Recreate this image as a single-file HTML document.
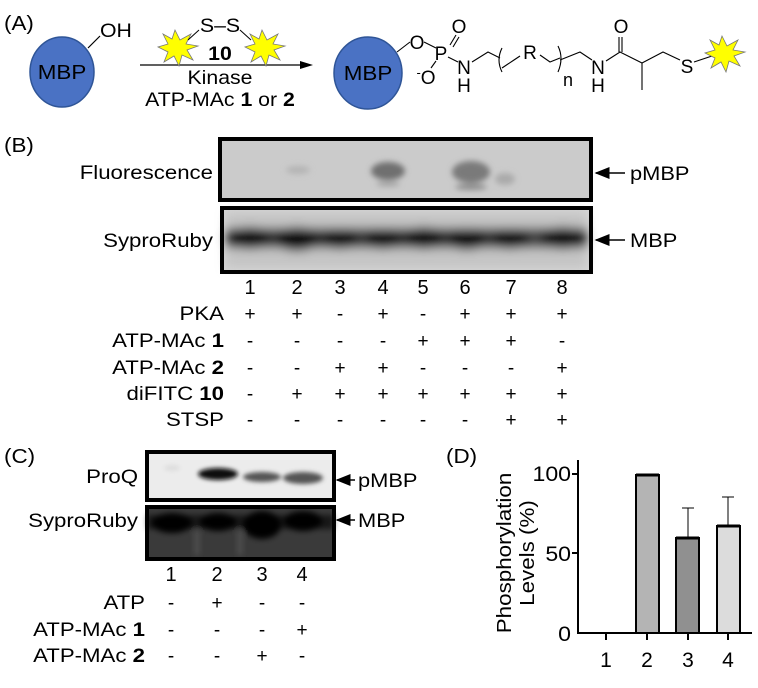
<!DOCTYPE html>
<html><head><meta charset="utf-8"><style>
body{margin:0;background:#fff}
svg{display:block}
text{font-family:"Liberation Sans",Arial,sans-serif;fill:#000}
</style></head><body>
<svg width="758" height="688" viewBox="0 0 758 688" xmlns="http://www.w3.org/2000/svg">
<defs>
<filter id="b3" x="-50%" y="-50%" width="200%" height="200%"><feGaussianBlur stdDeviation="3"/></filter>
<filter id="b5" x="-50%" y="-50%" width="200%" height="200%"><feGaussianBlur stdDeviation="5"/></filter>
<filter id="b2" x="-50%" y="-50%" width="200%" height="200%"><feGaussianBlur stdDeviation="2"/></filter>
<marker id="ah" markerWidth="10" markerHeight="8" refX="9" refY="4" orient="auto"><path d="M0,0 L10,4 L0,8 z" fill="#000"/></marker>
</defs>

<!-- Panel A -->
<g transform="translate(4,0) scale(1.12,1)"><text x="0" y="30" font-size="20">(A)</text></g>
<ellipse cx="62" cy="72" rx="32" ry="35" fill="#4a72c4" stroke="#2f5597" stroke-width="1.5"/>
<g transform="translate(62,0) scale(1.12,1)"><text x="0" y="79" font-size="20" text-anchor="middle">MBP</text></g>
<line x1="88" y1="48" x2="100" y2="36" stroke="#000" stroke-width="1.2"/>
<g transform="translate(100,0) scale(1.12,1)"><text x="0" y="37" font-size="19">OH</text></g>
<line x1="140" y1="65" x2="305" y2="65" stroke="#000" stroke-width="1.3"/>
<path d="M300,61 L313,65 L300,69 z" fill="#000"/>
<polygon points="175,30 180,40 191,34 186,44 198,46 187,50 193,60 182,55 179,66 174,56 164,62 168,52 158,47 168,44 163,34 172,39" fill="#ffff00" stroke="#777" stroke-width="0.8"/>
<polygon points="262,30 267,40 278,34 273,44 285,46 274,50 280,60 269,55 266,66 261,56 251,62 255,52 245,47 255,44 250,34 259,39" fill="#ffff00" stroke="#777" stroke-width="0.8"/>
<line x1="188" y1="40" x2="199" y2="30" stroke="#000" stroke-width="1"/>
<line x1="240" y1="30" x2="251" y2="40" stroke="#000" stroke-width="1"/>
<g transform="translate(220,0) scale(1.12,1)" font-size="19" text-anchor="middle">
<text x="0" y="32">S–S</text>
<text x="0" y="60" font-weight="bold">10</text>
<text x="0" y="84">Kinase</text>
<text x="0" y="106">ATP-MAc <tspan font-weight="bold">1</tspan> or <tspan font-weight="bold">2</tspan></text>
</g>

<ellipse cx="368" cy="73" rx="34" ry="36" fill="#4a72c4" stroke="#2f5597" stroke-width="1.5"/>
<g transform="translate(368,0) scale(1.12,1)"><text x="0" y="80" font-size="20" text-anchor="middle">MBP</text></g>
<g stroke="#000" stroke-width="1.1" fill="none">
<line x1="397" y1="52" x2="410" y2="42"/>
<line x1="424" y1="42" x2="436" y2="48"/>
<line x1="450" y1="45" x2="456" y2="35"/><line x1="453" y1="47" x2="459" y2="37"/>
<line x1="436" y1="61" x2="431" y2="68"/>
<line x1="448" y1="57" x2="458" y2="62"/>
<polyline points="472,62 488,52 500,58"/>
<path d="M502,48 Q496,60 502,72"/>
<polyline points="502,68 514,60 520,56"/>
<polyline points="540,55 550,62 560,58"/>
<path d="M558,46 Q564,58 558,72"/>
<polyline points="560,60 580,52 592,60"/>
<polyline points="606,61 620,52 642,63 663,52 680,60"/>
<line x1="619" y1="52" x2="619" y2="37"/><line x1="622" y1="52" x2="622" y2="37"/>
<line x1="642" y1="63" x2="642" y2="90"/>
<line x1="694" y1="62" x2="712" y2="56"/>
</g>
<g font-size="19" text-anchor="middle">
<text x="417" y="49">O</text>
<text x="441" y="60">P</text>
<text x="459" y="33">O</text>
<text x="426" y="84"><tspan font-size="13" dy="-7">-</tspan><tspan dy="7">O</tspan></text>
<text x="464" y="74">N</text>
<text x="464" y="92">H</text>
<text x="530" y="59">R</text>
<text x="568" y="86" font-size="18">n</text>
<text x="598" y="74">N</text>
<text x="598" y="92">H</text>
<text x="621" y="33">O</text>
<text x="687" y="73">S</text>
</g>
<polygon points="722,36 727,46 738,40 733,50 745,52 734,56 740,66 729,61 726,72 721,62 711,68 715,58 705,53 715,50 710,40 719,45" fill="#ffff00" stroke="#777" stroke-width="0.8"/>

<!-- Panel B -->
<g transform="translate(4,0) scale(1.12,1)"><text x="0" y="152" font-size="20">(B)</text></g>
<g transform="translate(213,0) scale(1.17,1)" font-size="19" text-anchor="end">
<text x="0" y="179">Fluorescence</text>
<text x="0" y="247">SyproRuby</text>
</g>
<rect x="220" y="139" width="371" height="61" fill="#cbcbcb" stroke="#000" stroke-width="4"/>
<g filter="url(#b3)">
<ellipse cx="298" cy="170" rx="12" ry="4" fill="#b4b4b4"/>
<ellipse cx="388" cy="171" rx="17" ry="9" fill="#707070"/>
<ellipse cx="388" cy="184" rx="12" ry="2" fill="#999"/>
<ellipse cx="471" cy="172" rx="19" ry="11" fill="#7a7a7a"/>
<ellipse cx="471" cy="187" rx="16" ry="3" fill="#8a8a8a"/>
<ellipse cx="505" cy="179" rx="10" ry="6" fill="#aaa"/>
</g>
<rect x="220" y="139" width="371" height="61" fill="none" stroke="#000" stroke-width="4"/>
<rect x="222" y="208" width="369" height="64" fill="#d6d6d6" stroke="#000" stroke-width="4"/>
<g filter="url(#b5)">
<rect x="226" y="212" width="361" height="56" fill="#c4c4c4"/>
<ellipse cx="250" cy="238" rx="22" ry="11" fill="#000"/>
<ellipse cx="297" cy="239" rx="23" ry="12" fill="#000"/>
<ellipse cx="340" cy="239" rx="20" ry="10" fill="#111"/>
<ellipse cx="383" cy="239" rx="20" ry="10" fill="#111"/>
<ellipse cx="424" cy="238" rx="21" ry="11" fill="#000"/>
<ellipse cx="467" cy="239" rx="21" ry="11" fill="#080808"/>
<ellipse cx="510" cy="239" rx="20" ry="10" fill="#111"/>
<ellipse cx="563" cy="238" rx="23" ry="11" fill="#000"/>
<rect x="226" y="228" width="361" height="20" fill="#111" opacity="0.7"/>
</g>
<rect x="222" y="208" width="369" height="64" fill="none" stroke="#000" stroke-width="4"/>
<line x1="625" y1="173" x2="596" y2="173" stroke="#000" stroke-width="1.5" marker-end="url(#ah)"/>
<g transform="translate(630,0) scale(1.15,1)"><text x="0" y="180" font-size="19">pMBP</text>
<text x="0" y="247" font-size="19">MBP</text></g>
<line x1="625" y1="240" x2="596" y2="240" stroke="#000" stroke-width="1.5" marker-end="url(#ah)"/>

<g font-size="20" text-anchor="middle">
<text x="250" y="294">1</text><text x="297" y="294">2</text><text x="340" y="294">3</text><text x="383" y="294">4</text><text x="423" y="294">5</text><text x="465" y="294">6</text><text x="511" y="294">7</text><text x="562" y="294">8</text>
</g>
<g transform="translate(224,0) scale(1.17,1)" font-size="19" text-anchor="end">
<text x="0" y="320">PKA</text>
<text x="0" y="347">ATP-MAc <tspan font-weight="bold">1</tspan></text>
<text x="0" y="374">ATP-MAc <tspan font-weight="bold">2</tspan></text>
<text x="0" y="400">diFITC <tspan font-weight="bold">10</tspan></text>
<text x="0" y="426">STSP</text>
</g>
<g font-size="19" text-anchor="middle">
<text x="250" y="320">+</text><text x="297" y="320">+</text><text x="340" y="320">-</text><text x="383" y="320">+</text><text x="423" y="320">-</text><text x="465" y="320">+</text><text x="511" y="320">+</text><text x="562" y="320">+</text>
<text x="250" y="347">-</text><text x="297" y="347">-</text><text x="340" y="347">-</text><text x="383" y="347">-</text><text x="423" y="347">+</text><text x="465" y="347">+</text><text x="511" y="347">+</text><text x="562" y="347">-</text>
<text x="250" y="374">-</text><text x="297" y="374">-</text><text x="340" y="374">+</text><text x="383" y="374">+</text><text x="423" y="374">-</text><text x="465" y="374">-</text><text x="511" y="374">-</text><text x="562" y="374">+</text>
<text x="250" y="400">-</text><text x="297" y="400">+</text><text x="340" y="400">+</text><text x="383" y="400">+</text><text x="423" y="400">+</text><text x="465" y="400">+</text><text x="511" y="400">+</text><text x="562" y="400">+</text>
<text x="250" y="426">-</text><text x="297" y="426">-</text><text x="340" y="426">-</text><text x="383" y="426">-</text><text x="423" y="426">-</text><text x="465" y="426">-</text><text x="511" y="426">+</text><text x="562" y="426">+</text>
</g>

<!-- Panel C -->
<g transform="translate(4,0) scale(1.12,1)"><text x="0" y="463" font-size="20">(C)</text></g>
<g transform="translate(138,0) scale(1.17,1)" font-size="19" text-anchor="end">
<text x="0" y="483">ProQ</text>
<text x="0" y="527">SyproRuby</text>
</g>
<rect x="147" y="452" width="187" height="48" fill="#ececec" stroke="#000" stroke-width="4"/>
<g filter="url(#b2)">
<ellipse cx="218" cy="474" rx="20" ry="6" fill="#111"/>
<ellipse cx="262" cy="477" rx="19" ry="5" fill="#555"/>
<ellipse cx="303" cy="478" rx="20" ry="6" fill="#555"/>
<ellipse cx="172" cy="468" rx="8" ry="3" fill="#ddd"/>
</g>
<rect x="147" y="452" width="187" height="48" fill="none" stroke="#000" stroke-width="4"/>
<rect x="147" y="507" width="187" height="52" fill="#3a3a3a" stroke="#000" stroke-width="4"/>
<g filter="url(#b3)">
<ellipse cx="172" cy="523" rx="20" ry="10" fill="#000"/>
<ellipse cx="218" cy="522" rx="18" ry="9" fill="#050505"/>
<ellipse cx="262" cy="525" rx="19" ry="14" fill="#000"/>
<ellipse cx="303" cy="521" rx="19" ry="10" fill="#000"/>
<rect x="147" y="515" width="187" height="14" fill="#000" opacity="0.6"/>
<rect x="195" y="530" width="4" height="25" fill="#555"/>
<rect x="238" y="530" width="4" height="25" fill="#555"/>
</g>
<rect x="147" y="507" width="187" height="52" fill="none" stroke="#000" stroke-width="4"/>
<line x1="355" y1="480" x2="337" y2="480" stroke="#000" stroke-width="1.5" marker-end="url(#ah)"/>
<line x1="355" y1="520" x2="337" y2="520" stroke="#000" stroke-width="1.5" marker-end="url(#ah)"/>
<g transform="translate(358,0) scale(1.15,1)" font-size="19">
<text x="0" y="487">pMBP</text>
<text x="0" y="527">MBP</text>
</g>
<g font-size="20" text-anchor="middle">
<text x="171" y="581">1</text><text x="217" y="581">2</text><text x="262" y="581">3</text><text x="302" y="581">4</text>
</g>
<g transform="translate(145,0) scale(1.17,1)" font-size="19" text-anchor="end">
<text x="0" y="609">ATP</text>
<text x="0" y="636">ATP-MAc <tspan font-weight="bold">1</tspan></text>
<text x="0" y="662">ATP-MAc <tspan font-weight="bold">2</tspan></text>
</g>
<g font-size="19" text-anchor="middle">
<text x="171" y="609">-</text><text x="217" y="609">+</text><text x="262" y="609">-</text><text x="302" y="609">-</text>
<text x="171" y="636">-</text><text x="217" y="636">-</text><text x="262" y="636">-</text><text x="302" y="636">+</text>
<text x="171" y="662">-</text><text x="217" y="662">-</text><text x="262" y="662">+</text><text x="302" y="662">-</text>
</g>

<!-- Panel D -->
<g transform="translate(446,0) scale(1.12,1)"><text x="0" y="463" font-size="20">(D)</text></g>
<g stroke="#000" stroke-width="2" fill="none">
<line x1="578" y1="460" x2="578" y2="634"/>
<line x1="572" y1="474" x2="578" y2="474"/>
<line x1="572" y1="553" x2="578" y2="553"/>
<line x1="577" y1="633" x2="752" y2="633"/>
<line x1="606" y1="633" x2="606" y2="640"/>
<line x1="647" y1="633" x2="647" y2="640"/>
<line x1="688" y1="633" x2="688" y2="640"/>
<line x1="728" y1="633" x2="728" y2="640"/>
</g>
<rect x="636" y="475" width="23" height="158" fill="#b4b4b4" stroke="#000" stroke-width="2"/>
<line x1="636" y1="475" x2="659" y2="475" stroke="#000" stroke-width="3"/>
<line x1="688" y1="538" x2="688" y2="508" stroke="#000" stroke-width="1"/>
<line x1="682" y1="508" x2="694" y2="508" stroke="#000" stroke-width="1"/>
<rect x="676" y="538" width="23" height="95" fill="#909090" stroke="#000" stroke-width="2"/>
<line x1="676" y1="538" x2="699" y2="538" stroke="#000" stroke-width="3"/>
<line x1="728" y1="526" x2="728" y2="497" stroke="#000" stroke-width="1"/>
<line x1="722" y1="497" x2="734" y2="497" stroke="#000" stroke-width="1"/>
<rect x="717" y="526" width="23" height="107" fill="#dcdcdc" stroke="#000" stroke-width="2"/>
<line x1="717" y1="526" x2="740" y2="526" stroke="#000" stroke-width="3"/>
<g transform="translate(571,0) scale(1.1,1)" font-size="21" text-anchor="end">
<text x="0" y="481">100</text><text x="0" y="561">50</text><text x="0" y="641">0</text>
</g>
<g font-size="21" text-anchor="middle">
<text x="606" y="667">1</text><text x="647" y="667">2</text><text x="688" y="667">3</text><text x="728" y="667">4</text>
</g>
<g transform="translate(511,553) rotate(-90) scale(1.12,1)"><text x="0" y="0" font-size="20" text-anchor="middle">Phosphorylation</text></g>
<g transform="translate(534,553) rotate(-90) scale(1.12,1)"><text x="0" y="0" font-size="20" text-anchor="middle">Levels (%)</text></g>
</svg>
</body></html>
